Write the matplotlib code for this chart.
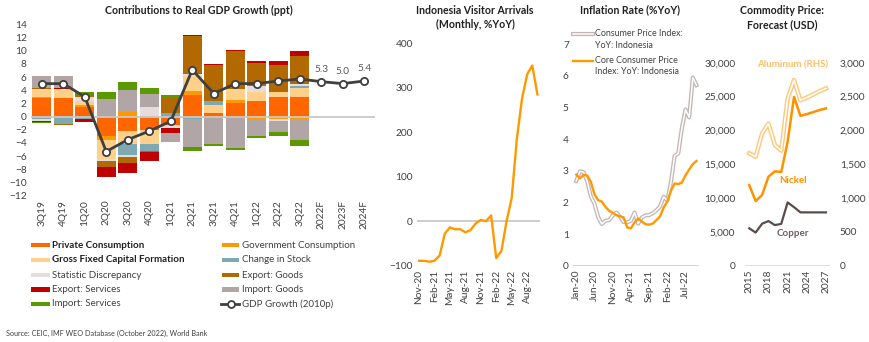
import matplotlib
matplotlib.use("Agg")
import matplotlib.pyplot as plt
import numpy as np
from matplotlib.lines import Line2D
from matplotlib.patches import Rectangle
from matplotlib.ticker import FuncFormatter

plt.rcParams['font.family'] = ['Lato', 'DejaVu Sans']

W, H = 870, 342
TXT = "#404040"
TICK_SIZE = 7.3


def box(x0, y0, x1, y1):
    """Pixel box (left, top, right, bottom) -> figure fraction rect."""
    return [x0 / W, 1 - y1 / H, (x1 - x0) / W, (y1 - y0) / H]


def fx(x):
    return x / W


def fy(y):
    return 1 - y / H


# ---------------- Contributions to real GDP growth ----------------
periods = ["3Q19", "4Q19", "1Q20", "2Q20", "3Q20", "4Q20", "1Q21", "2Q21",
           "3Q21", "4Q21", "1Q22", "2Q22", "3Q22", "2022F", "2023F", "2024F"]
private_cons = [2.8, 2.8, 1.5, -3.0, -2.2, -2.0, -1.2, 3.2, 0.6, 2.0, 2.4, 2.9, 2.9]
govt_cons = [0.1, 0.0, 0.2, -0.5, 0.7, 0.0, 0.0, 0.7, 0.0, 0.5, -0.3, -0.3, -0.3]
gfcf = [1.3, 1.4, 0.6, -3.0, -2.0, -2.1, -0.2, 2.3, 1.2, 1.7, 1.4, 0.9, 1.5]
change_stock = [-0.3, -1.1, -0.3, 0.1, -1.7, -1.1, 0.5, -0.3, 0.5, 0.0, 0.0, -0.1, 0.2]
stat_discrepancy = [-0.4, 0.0, 0.6, -0.2, -0.2, 1.4, -0.3, 0.2, 0.0, 0.0, 0.8, -0.2, 0.3]
export_goods = [0.15, -0.1, 0.4, -1.0, -1.0, -0.2, 2.3, 5.8, 5.6, 5.8, 3.6, 4.0, 4.3]
export_services = [-0.15, 0.2, -0.5, -1.4, -1.5, -1.3, -0.8, 0.2, 0.1, 0.1, 0.2, 0.6, 0.8]
import_goods = [1.75, 1.7, 0.0, 2.5, 3.4, 2.1, -1.4, -4.3, -4.1, -4.8, -2.7, -1.8, -3.2]
import_services = [-0.15, 0.0, 0.4, 1.2, 1.1, 0.9, 0.4, -0.6, -0.4, -0.3, -0.3, -0.6, -0.9]
gdp_growth = [5.0, 5.0, 3.0, -5.3, -3.5, -2.2, -0.7, 7.1, 3.5, 5.0, 5.0, 5.4, 5.7,
              5.3, 5.0, 5.4]
forecast_labels = ["5.3", "5.0", "5.4"]

components = [
    ("Private Consumption", private_cons, "#FF6600", True),
    ("Government Consumption", govt_cons, "#FF9900", False),
    ("Gross Fixed Capital Formation", gfcf, "#FFD08A", True),
    ("Change in Stock", change_stock, "#7DA9B3", False),
    ("Statistic Discrepancy", stat_discrepancy, "#E6DCDC", False),
    ("Export: Goods", export_goods, "#B26A00", False),
    ("Export: Services", export_services, "#C00000", False),
    ("Import: Goods", import_goods, "#B1A5A5", False),
    ("Import: Services", import_services, "#5A9A00", False),
]

fig = plt.figure(figsize=(W / 100, H / 100), dpi=100)

ax1 = fig.add_axes(box(31, 24.3, 375, 195.7))
x = np.arange(len(periods))
nq = len(private_cons)
pos_base = np.zeros(nq)
neg_base = np.zeros(nq)
for name, vals, color, _ in components:
    v = np.asarray(vals, dtype=float)
    for sign in (1, -1):
        mask = (v * sign) > 0
        if not mask.any():
            continue
        base = pos_base if sign > 0 else neg_base
        ax1.bar(x[:nq][mask], v[mask], bottom=base[mask], width=0.88,
                color=color, edgecolor="none", zorder=2)
        base[mask] += v[mask]

ax1.axhline(0, color="#C8C8C8", lw=1.3, zorder=3)
ax1.plot(x, gdp_growth, color="#3F3F3F", lw=2.0, marker="o", ms=5.2,
         mfc="white", mec="#3F3F3F", mew=1.3, zorder=5)
for i, lab in zip(range(nq, len(periods)), forecast_labels):
    ax1.annotate(lab, (x[i], gdp_growth[i]), xytext=(0, 5.5),
                 textcoords="offset points", ha="center", va="bottom",
                 fontsize=TICK_SIZE, color="#595959")

ax1.set_xlim(-0.5, len(periods) - 0.5)
ax1.set_ylim(-12, 14)
ax1.set_yticks(range(-12, 15, 2))
ax1.set_xticks(x)
ax1.set_xticklabels(periods, rotation=90)
ax1.tick_params(length=0, labelsize=TICK_SIZE, colors=TXT, pad=3)
for s in ax1.spines.values():
    s.set_visible(False)

fig.text(fx(199), fy(10), "Contributions to Real GDP Growth (ppt)",
         ha="center", va="center", fontsize=7.6, fontweight="bold", color="#202020")

# legend (two columns, filled row by row)
legend_rows = [245, 260, 275, 289.5, 304]
col_patch = [(30.5, 50), (221.7, 239.5)]
col_text = [52, 242]
entries = [(c[0], c[2], c[3]) for c in components] + [("GDP Growth (2010p)", None, False)]
for k, (name, color, bold) in enumerate(entries):
    r, c = divmod(k, 2)
    yy = legend_rows[r]
    x0, x1 = col_patch[c]
    if color is not None:
        fig.add_artist(Rectangle((fx(x0), fy(yy + 2)), fx(x1 - x0), 4.2 / H,
                                 transform=fig.transFigure, color=color, lw=0))
    else:
        fig.add_artist(Line2D([fx(x0 - 1), fx(x1)], [fy(yy), fy(yy)],
                              transform=fig.transFigure, color="#3F3F3F", lw=2.0))
        fig.add_artist(Line2D([fx((x0 + x1) / 2)], [fy(yy)], transform=fig.transFigure,
                              marker="o", ms=5, mfc="white", mec="#3F3F3F", mew=1.3,
                              lw=0))
    fig.text(fx(col_text[c]), fy(yy), name, ha="left", va="center", fontsize=7.0,
             color="#202020" if bold else TXT, fontweight="bold" if bold else "normal")

fig.text(fx(6), fy(333.5), "Source: CEIC, IMF WEO Database (October 2022), World Bank",
         ha="left", va="center", fontsize=5.2, color=TXT)

# ---------------- Visitor arrivals ----------------
arrival_months = ["Nov-20", "Dec-20", "Jan-21", "Feb-21", "Mar-21", "Apr-21",
                  "May-21", "Jun-21", "Jul-21", "Aug-21", "Sep-21", "Oct-21",
                  "Nov-21", "Dec-21", "Jan-22", "Feb-22", "Mar-22", "Apr-22",
                  "May-22", "Jun-22", "Jul-22", "Aug-22", "Sep-22", "Oct-22"]
arrivals_yoy = [-89, -89, -91, -89, -77, -28, -14, -18, -18, -25, -20, -5,
                3, 0, 13, -83, -67, 0, 52, 185, 275, 330, 350, 285]

ax2 = fig.add_axes(box(417, 43.3, 540, 265.7))
xm = np.arange(len(arrival_months))
ax2.axhline(0, color="#C8C8C8", lw=1.3, zorder=1)
ax2.plot(xm, arrivals_yoy, color="#FF9900", lw=1.7, zorder=3)
ax2.set_xlim(-0.4, len(arrival_months) - 0.5)
ax2.set_ylim(-100, 400)
ax2.set_yticks(range(-100, 401, 100))
ax2.set_xticks(xm[::3])
ax2.set_xticklabels(arrival_months[::3], rotation=90)
ax2.tick_params(length=0, labelsize=TICK_SIZE, colors=TXT, pad=3)
for s in ax2.spines.values():
    s.set_visible(False)
fig.text(fx(475), fy(10), "Indonesia Visitor Arrivals", ha="center", va="center",
         fontsize=7.6, fontweight="bold", color="#202020")
fig.text(fx(475), fy(24.5), "(Monthly, %YoY)", ha="center", va="center",
         fontsize=7.6, fontweight="bold", color="#202020")

# ---------------- Inflation ----------------
cpi_months = ["Jan-20", "Feb-20", "Mar-20", "Apr-20", "May-20", "Jun-20", "Jul-20",
              "Aug-20", "Sep-20", "Oct-20", "Nov-20", "Dec-20", "Jan-21", "Feb-21",
              "Mar-21", "Apr-21", "May-21", "Jun-21", "Jul-21", "Aug-21", "Sep-21",
              "Oct-21", "Nov-21", "Dec-21", "Jan-22", "Feb-22", "Mar-22", "Apr-22",
              "May-22", "Jun-22", "Jul-22", "Aug-22", "Sep-22", "Oct-22"]
cpi_yoy = [2.68, 2.98, 2.96, 2.67, 2.19, 1.96, 1.54, 1.32, 1.42, 1.44, 1.59, 1.68,
           1.55, 1.38, 1.37, 1.42, 1.68, 1.33, 1.52, 1.59, 1.60, 1.66, 1.75, 1.87,
           2.18, 2.06, 2.64, 3.47, 3.55, 4.35, 4.94, 4.69, 5.95, 5.71]
core_cpi_yoy = [2.88, 2.76, 2.87, 2.85, 2.65, 2.26, 2.07, 2.03, 1.86, 1.74, 1.67, 1.60,
                1.56, 1.53, 1.21, 1.18, 1.37, 1.49, 1.40, 1.31, 1.30, 1.33, 1.44, 1.56,
                1.84, 2.03, 2.37, 2.60, 2.58, 2.63, 2.86, 3.04, 3.21, 3.31]

CPI_EDGE = "#C4B6B6"
ax3 = fig.add_axes(box(573, 44.3, 699, 265.7))
xc = np.arange(len(cpi_months))
ax3.plot(xc, cpi_yoy, color=CPI_EDGE, lw=3.0, solid_joinstyle="round", zorder=2)
ax3.plot(xc, cpi_yoy, color="white", lw=1.1, solid_joinstyle="round", zorder=3)
ax3.plot(xc, core_cpi_yoy, color="#FF9900", lw=1.7, zorder=4)
ax3.set_xlim(-0.9, len(cpi_months) - 0.3)
ax3.set_ylim(0, 7)
ax3.set_yticks(range(0, 8))
ax3.set_xticks(xc[::5])
ax3.set_xticklabels(cpi_months[::5], rotation=90)
ax3.tick_params(length=0, labelsize=TICK_SIZE, colors=TXT, pad=3)
for s in ax3.spines.values():
    s.set_visible(False)
ax3.axhline(0, color="#D0D0D0", lw=1.3, zorder=1)
fig.text(fx(630), fy(10), "Inflation Rate (%YoY)", ha="center", va="center",
         fontsize=7.6, fontweight="bold", color="#202020")

# inflation legend
fig.add_artist(Line2D([fx(573), fx(593)], [fy(33.5), fy(33.5)], transform=fig.transFigure,
                      color=CPI_EDGE, lw=3.0))
fig.add_artist(Line2D([fx(573), fx(593)], [fy(33.5), fy(33.5)], transform=fig.transFigure,
                      color="white", lw=1.1))
fig.add_artist(Line2D([fx(573), fx(593)], [fy(60.5), fy(60.5)], transform=fig.transFigure,
                      color="#FF9900", lw=1.7))
for yy, t in [(33.5, "Consumer Price Index:"), (45, "YoY: Indonesia"),
              (60.5, "Core Consumer Price"), (72, "Index: YoY: Indonesia")]:
    fig.text(fx(595), fy(yy), t, ha="left", va="center", fontsize=6.4, color=TXT)

# ---------------- Commodity prices ----------------
years = list(range(2015, 2028))
nickel = [11900, 9550, 10450, 13150, 13950, 13850, 18300, 24950, 22150, 22400,
          22700, 23000, 23250]
copper = [5520, 4900, 6200, 6600, 6000, 6180, 9350, 8650, 7880, 7880, 7880, 7880, 7880]
aluminum = [1660, 1610, 1955, 2100, 1785, 1700, 2470, 2745, 2445, 2485, 2530, 2580, 2620]

ALU = "#FFC778"
ax4 = fig.add_axes(box(745, 62.7, 830, 265.7))
ax4r = ax4.twinx()
ax4.plot(years, nickel, color="#FF9100", lw=1.8, zorder=4)
ax4.plot(years, copper, color="#5B4B4B", lw=1.6, zorder=4)
ax4r.plot(years, aluminum, color=ALU, lw=3.2, zorder=2)
ax4r.plot(years, aluminum, color="white", lw=1.2, zorder=3)
ax4.set_xlim(2014.33, 2027.63)
ax4.set_ylim(0, 30000)
ax4r.set_ylim(0, 3000)
ax4.set_yticks(range(0, 30001, 5000))
ax4r.set_yticks(range(0, 3001, 500))
comma = FuncFormatter(lambda v, p: f"{v:,.0f}")
ax4.yaxis.set_major_formatter(comma)
ax4r.yaxis.set_major_formatter(comma)
ax4.set_xticks(years[::3])
ax4.set_xticklabels([str(y) for y in years[::3]], rotation=90)
for a in (ax4, ax4r):
    a.tick_params(length=0, labelsize=TICK_SIZE, colors=TXT, pad=3)
    for s in a.spines.values():
        s.set_visible(False)
ax4.tick_params(axis="y", pad=7)
ax4r.tick_params(axis="y", pad=7)
ax4.axhline(0, color="#D9D9D9", lw=2.0, zorder=1)
ax4.text(2021.8, 29600, "Aluminum (RHS)", ha="center", va="center", fontsize=7.0,
         fontweight="bold", color="#FFC06A")
ax4.text(2021.8, 12650, "Nickel", ha="center", va="center", fontsize=7.0,
         fontweight="bold", color="#FF9100")
ax4.text(2021.8, 4830, "Copper", ha="center", va="center", fontsize=7.0,
         fontweight="bold", color="#6B5E5E")
fig.text(fx(782), fy(11), "Commodity Price:", ha="center", va="center",
         fontsize=7.6, fontweight="bold", color="#202020")
fig.text(fx(782), fy(25), "Forecast (USD)", ha="center", va="center",
         fontsize=7.6, fontweight="bold", color="#202020")

fig.savefig("out.png", dpi=100)
